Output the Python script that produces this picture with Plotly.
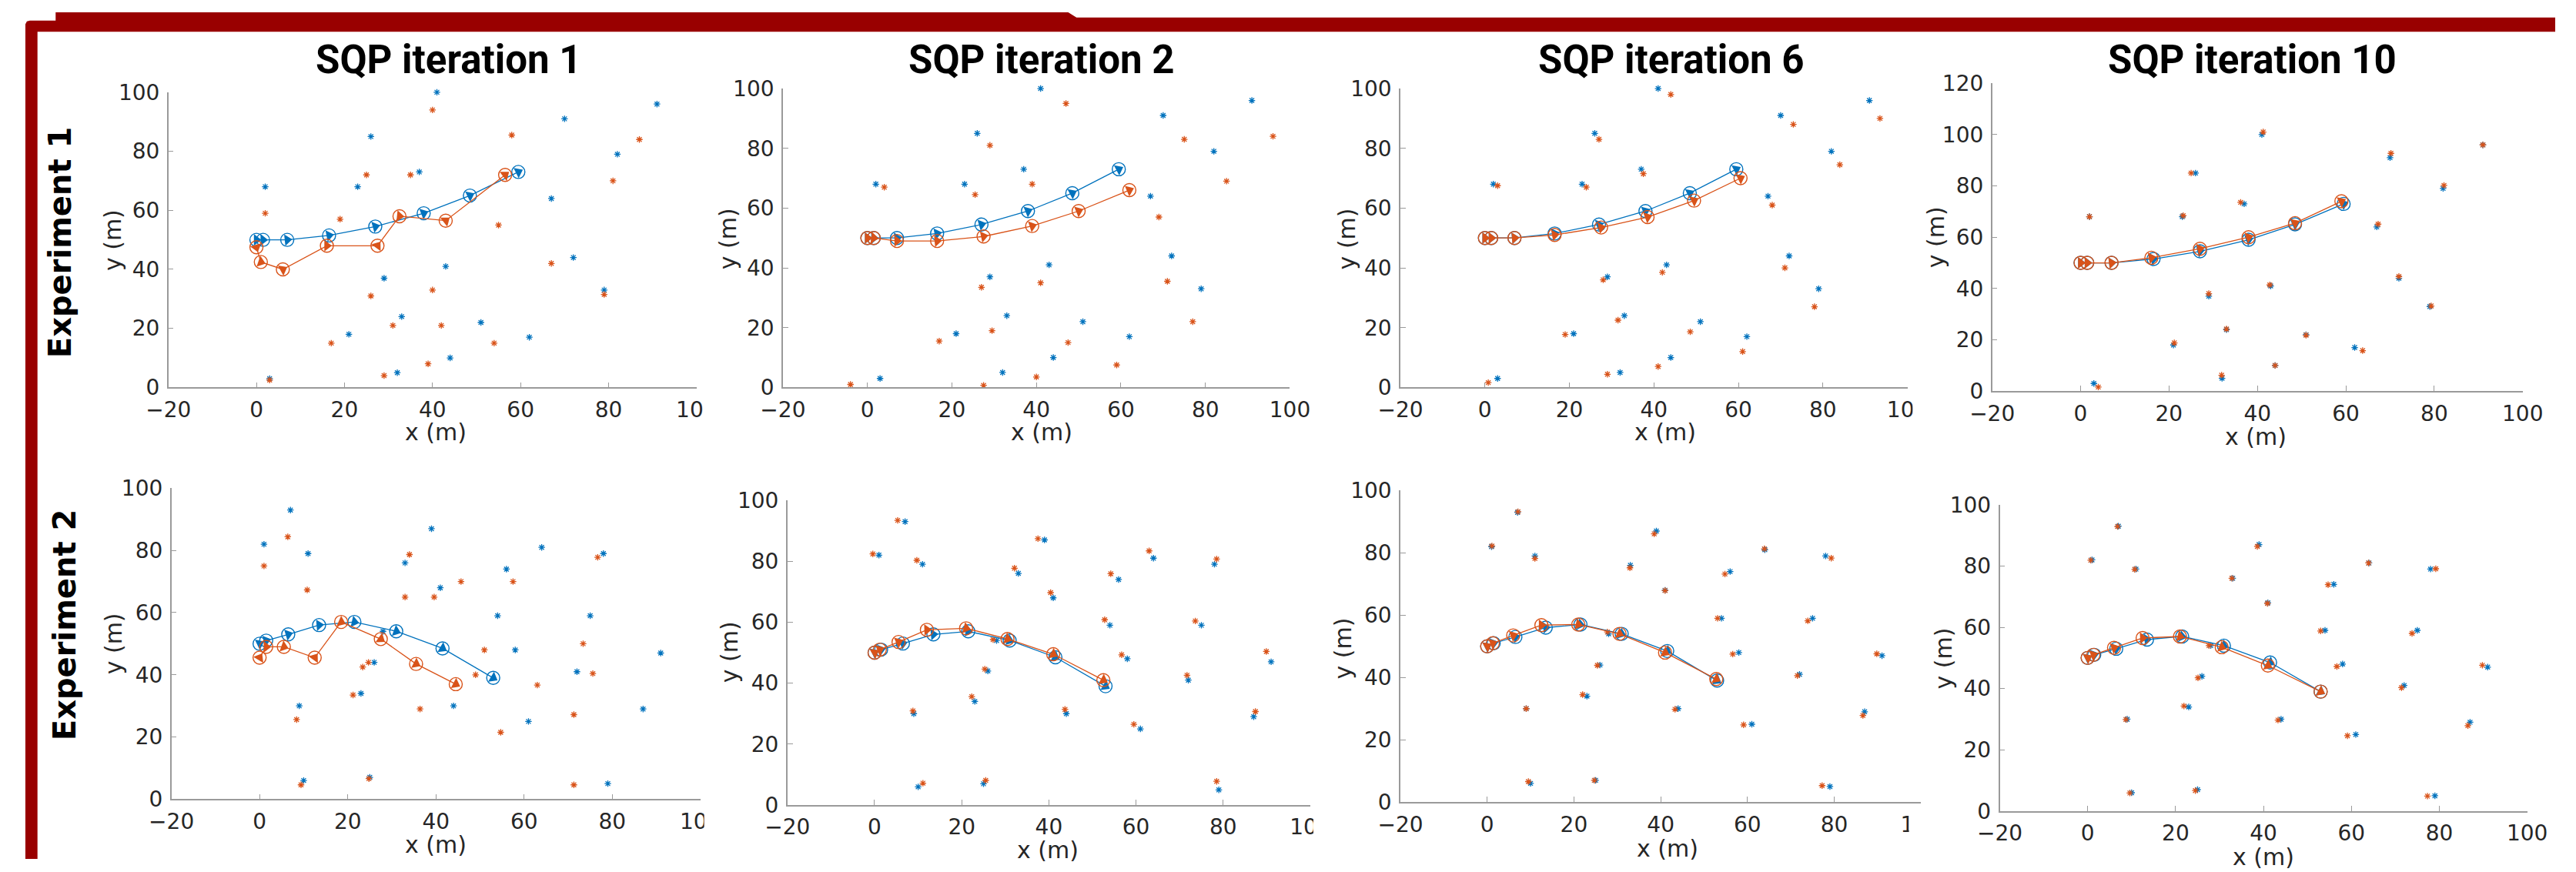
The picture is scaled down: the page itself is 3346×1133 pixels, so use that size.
import numpy as np
import plotly.graph_objects as go

W, H = 3346, 1133

# ---------------- data ----------------
TITLES = ["SQP iteration 1", "SQP iteration 2", "SQP iteration 6", "SQP iteration 10"]
ROW_LABELS = ["Experiment 1", "Experiment 2"]
X_TICKS = [-20, 0, 20, 40, 60, 80, 100]

# Experiment 1 - true landmarks
E1_LM_X = [41, 91, 70, 26, 82, 37, 2, 23, 67, 72, 43, 29, 79, 33, 51, 21, 62, 44, 32, 3]
E1_LM_Y = [100, 96, 91, 85, 79, 73, 68, 68, 64, 44, 41, 37, 33, 24, 22, 18, 17, 10, 5, 3]
# Experiment 1 - estimated landmarks per iteration
E1_IT1_LM_X = [40, 58, 87, 25, 35, 81, 2, 19, 55, 67, 40, 26, 79, 31, 42, 17, 54, 39, 29, 3]
E1_IT1_LM_Y = [94, 85.5, 84, 72, 72, 70, 59, 57, 55, 42, 33, 31, 31.5, 21, 21, 15, 15, 8, 4, 2.5]
E1_IT2_LM_X = [47, 75, 96, 29, 39, 4, 25.5, 85, 69, 71, 41, 27, 77, 29.5, 17, 47.5, 59, 40, -4, 27.5]
E1_IT2_LM_Y = [95, 83, 84, 81, 68, 67, 64.5, 69, 57, 35.5, 35, 33.5, 22, 19, 15.5, 15, 7.5, 3.5, 1, 0.7]
E1_IT6_LM_X = [44, 93.5, 73, 27, 84, 37.5, 3, 24, 68, 71, 42, 28, 78, 31.5, 19, 48.6, 61, 41, 29, 0.8]
E1_IT6_LM_Y = [98, 90, 88, 83, 74.5, 71.5, 67.5, 67, 61, 40, 38.5, 36, 27, 22.5, 17.7, 18.6, 12, 7, 4.4, 1.6]
E1_IT10_LM_X = [41.3, 91, 70.2, 25, 82.2, 36.2, 2, 23.2, 67.3, 72, 42.8, 29, 79.3, 33, 51, 21.2, 63.8, 44, 31.9, 4]
E1_IT10_LM_Y = [101, 96, 92.7, 85, 80.2, 73.6, 68, 68.4, 65.1, 44.7, 41.4, 38, 33.2, 24.2, 21.8, 18.8, 15.8, 10, 6.2, 1.6]
# Experiment 1 - true trajectory and estimates
E1_TR_X = [0, 1.5, 7, 16.5, 27, 38, 48.5, 59.5]
E1_TR_Y = [50, 50, 50, 51.5, 54.5, 59, 65, 73]
E1_IT1_TR_X = [0, 1, 6, 16, 27.5, 32.5, 43, 56.5]
E1_IT1_TR_Y = [47.5, 42.5, 40, 48, 48, 58, 56.5, 72]
E1_IT2_TR_X = [0, 1.5, 7, 16.5, 27.5, 39, 50, 62]
E1_IT2_TR_Y = [50, 50, 49, 49, 50.5, 54, 59, 66]
E1_IT6_TR_X = [0, 1.5, 7, 16.5, 27.5, 38.5, 49.5, 60.5]
E1_IT6_TR_Y = [50, 50, 50, 51, 53.5, 57, 62.5, 70]
E1_IT10_TR_X = [0, 1.5, 7, 16, 27, 38, 48.5, 59]
E1_IT10_TR_Y = [50, 50, 50, 52, 55.5, 60, 65.5, 74]

# Experiment 2 - true landmarks
E2_LM_X = [7, 39, 1, 64, 78, 11, 33, 56, 41, 54, 75, 58, 91, 28, 26, 72, 23, 9, 44, 87, 61, 10, 25, 79]
E2_LM_Y = [93, 87, 82, 81, 79, 79, 76, 74, 68, 59, 59, 48, 47, 54, 44, 41, 34, 30, 30, 29, 25, 6, 7, 5]
E2_IT1_LM_X = [6.4, 34, 1, 76.7, 57.5, 45.7, 10.8, 33, 39.6, 73.4, 51, 49, 75.6, 24.7, 23.4, 63, 21.2, 8.4, 36.4, 71.3, 54.7, 9.4, 24.8, 71.3]
E2_IT1_LM_Y = [84.4, 78.7, 75, 77.8, 70, 70, 67.3, 65, 65, 50, 48, 40, 40.4, 44, 42.5, 36.7, 33.5, 25.6, 29, 27.2, 21.5, 4.6, 6.6, 4.6]
E2_IT2_LM_X = [5.3, 37.5, -0.4, 63, 78.5, 9.7, 32.1, 54.2, 40.4, 52.8, 73.6, 56.7, 89.9, 27.2, 25.3, 71.7, 22.3, 8.8, 43.7, 87.4, 59.5, 11.1, 25.5, 78.5]
E2_IT2_LM_Y = [93.4, 87.4, 82.4, 83.4, 80.7, 80.3, 77.7, 75.9, 69.7, 60.8, 60.4, 49.3, 50.4, 54.3, 44.6, 42.6, 35.6, 30.9, 31.4, 30.7, 26.5, 7.2, 8.1, 7.8]
E2_IT6_LM_X = [7.1, 38.5, 1.1, 63.9, 79.3, 11, 32.9, 54.8, 41, 53.1, 73.9, 56.6, 89.8, 27.7, 25.4, 71.5, 22, 9, 43.3, 86.6, 59.1, 9.5, 24.7, 77.2]
E2_IT6_LM_Y = [93.2, 86.1, 82.2, 81.3, 78.3, 78.2, 75.2, 73.2, 67.9, 59, 58.2, 47.5, 47.6, 54.6, 43.9, 40.6, 34.5, 30, 29.8, 27.8, 24.8, 6.6, 7, 5.3]
E2_IT10_LM_X = [6.8, 38.6, 0.7, 63.9, 79.2, 10.7, 32.8, 54.7, 40.9, 53, 73.8, 56.7, 89.8, 27.6, 25.1, 71.4, 21.9, 8.7, 43.3, 86.5, 59.1, 9.6, 24.5, 77.3]
E2_IT10_LM_Y = [92.9, 86.4, 81.9, 81, 79.1, 78.9, 76, 73.9, 67.8, 58.8, 58, 47.2, 47.6, 54, 43.5, 40.3, 34.3, 29.9, 29.7, 27.9, 24.6, 5.9, 6.7, 4.9]
E2_TR_X = [0, 1.5, 6.5, 13.5, 21.5, 31, 41.5, 53]
E2_TR_Y = [50, 51, 53, 56, 57, 54, 48.5, 39]
E2_IT1_TR_X = [0, 1.5, 5.5, 12.5, 18.5, 27.5, 35.5, 44.5]
E2_IT1_TR_Y = [45.5, 49, 49, 45.5, 57, 51.5, 43.5, 37]
E2_IT2_TR_X = [0, 1.2, 5.5, 12, 21, 30.5, 41, 52.5]
E2_IT2_TR_Y = [50, 51, 53.5, 57.5, 58, 54.5, 49.5, 41]
E2_IT6_TR_X = [0, 1.3, 6, 12.5, 21, 30.5, 41, 52.8]
E2_IT6_TR_Y = [50, 51, 53.5, 56.8, 57, 54, 48, 39.5]
E2_IT10_TR_X = [0, 1.3, 6, 12.5, 21, 30.5, 41, 53]
E2_IT10_TR_Y = [50, 51, 53.3, 56.5, 57, 53.5, 47.5, 39]

# ---------------- styling / layout ----------------
BLUE = "#0072BD"
ORANGE = "#D95319"
RED = "#990000"
AXC = "#9a9a9a"
TXT = "#262626"
TICK_FONT = "DejaVu Sans, sans-serif"
TITLE_FONT = "Roboto, Liberation Sans Narrow, sans-serif"


def PX(x):
    return x / W


def PY(y):
    return 1 - y / H


# pixel boxes of each panel (left, right, top, bottom) and its y-limit
panels = [
    (192, 890, 107, 502, 100, (E1_LM_X, E1_LM_Y), (E1_IT1_LM_X, E1_IT1_LM_Y), (E1_TR_X, E1_TR_Y), (E1_IT1_TR_X, E1_IT1_TR_Y)),
    (1004, 1674, 102, 502, 100, (E1_LM_X, E1_LM_Y), (E1_IT2_LM_X, E1_IT2_LM_Y), (E1_TR_X, E1_TR_Y), (E1_IT2_TR_X, E1_IT2_TR_Y)),
    (1820, 2490, 102, 502, 100, (E1_LM_X, E1_LM_Y), (E1_IT6_LM_X, E1_IT6_LM_Y), (E1_TR_X, E1_TR_Y), (E1_IT6_TR_X, E1_IT6_TR_Y)),
    (2602, 3303, 95, 507, 120, (E1_LM_X, E1_LM_Y), (E1_IT10_LM_X, E1_IT10_LM_Y), (E1_TR_X, E1_TR_Y), (E1_IT10_TR_X, E1_IT10_TR_Y)),
    (196, 895, 637, 1053, 100, (E2_LM_X, E2_LM_Y), (E2_IT1_LM_X, E2_IT1_LM_Y), (E2_TR_X, E2_TR_Y), (E2_IT1_TR_X, E2_IT1_TR_Y)),
    (1010, 1701, 653, 1061, 100, (E2_LM_X, E2_LM_Y), (E2_IT2_LM_X, E2_IT2_LM_Y), (E2_TR_X, E2_TR_Y), (E2_IT2_TR_X, E2_IT2_TR_Y)),
    (1820, 2508, 640, 1057, 100, (E2_LM_X, E2_LM_Y), (E2_IT6_LM_X, E2_IT6_LM_Y), (E2_TR_X, E2_TR_Y), (E2_IT6_TR_X, E2_IT6_TR_Y)),
    (2612, 3309, 659, 1069, 100, (E2_LM_X, E2_LM_Y), (E2_IT10_LM_X, E2_IT10_LM_Y), (E2_TR_X, E2_TR_Y), (E2_IT10_TR_X, E2_IT10_TR_Y)),
]

fig = go.Figure()
layout = dict(
    width=W, height=H, margin=dict(l=0, r=0, t=0, b=0),
    paper_bgcolor="white", plot_bgcolor="rgba(0,0,0,0)",
    showlegend=False, shapes=[], annotations=[],
)


def headings(xs, ys, sx, sy):
    xs = np.asarray(xs, float)
    ys = np.asarray(ys, float)
    dx = np.diff(xs) * sx
    dy = np.diff(ys) * sy
    ang = np.degrees(np.arctan2(dy, dx))
    ang = np.append(ang, ang[-1])
    return list(-ang)


for k, (l, r, t, b, ymax, lmt, lme, trt, tre) in enumerate(panels):
    i = k + 1
    xa = "x" if i == 1 else f"x{i}"
    ya = "y" if i == 1 else f"y{i}"
    sx = (r - l) / 120.0
    sy = (b - t) / float(ymax)
    common = dict(
        showgrid=False, zeroline=False, showline=True, linecolor=AXC, linewidth=1.5,
        ticks="inside", ticklen=7, tickcolor=AXC, tickwidth=1.2,
        tickfont=dict(family=TICK_FONT, size=28, color=TXT), fixedrange=True,
    )
    layout["xaxis" if i == 1 else f"xaxis{i}"] = dict(
        domain=[PX(l), PX(r)], anchor=ya, range=[-20, 100], tickvals=X_TICKS,
        ticklabelstandoff=3, **common)
    layout["yaxis" if i == 1 else f"yaxis{i}"] = dict(
        domain=[PY(b), PY(t)], anchor=xa, range=[0, ymax],
        tickvals=list(range(0, ymax + 1, 20)), ticklabelstandoff=4, **common)
    # landmarks
    for (lx, ly), col in ((lmt, BLUE), (lme, ORANGE)):
        fig.add_trace(go.Scatter(
            x=lx, y=ly, mode="markers", xaxis=xa, yaxis=ya, cliponaxis=False,
            marker=dict(symbol="asterisk-open", size=7, color=col, line=dict(color=col, width=1.3)),
            hoverinfo="skip"))
    # trajectories
    for (tx, ty), col in ((trt, BLUE), (tre, ORANGE)):
        fig.add_trace(go.Scatter(
            x=tx, y=ty, mode="lines", xaxis=xa, yaxis=ya,
            line=dict(color=col, width=1.3), hoverinfo="skip"))
        fig.add_trace(go.Scatter(
            x=tx, y=ty, mode="markers", xaxis=xa, yaxis=ya, cliponaxis=False,
            marker=dict(symbol="circle-open", size=17, color=col, line=dict(color=col, width=1.4)),
            hoverinfo="skip"))
        fig.add_trace(go.Scatter(
            x=tx, y=ty, mode="markers", xaxis=xa, yaxis=ya, cliponaxis=False,
            marker=dict(symbol="triangle-right", size=13, color=col,
                        angle=headings(tx, ty, sx, sy), line=dict(width=0)),
            hoverinfo="skip"))


# ---------------- texts ----------------
def ann(text, x, y, size, family, angle=0, bold=False, color=TXT):
    layout["annotations"].append(dict(
        text=f"<b>{text}</b>" if bold else text, x=PX(x), y=PY(y), xref="paper", yref="paper",
        xanchor="center", yanchor="middle", showarrow=False, textangle=angle,
        font=dict(family=family, size=size, color=color)))


for txt, cx in zip(TITLES, [563, 1346, 2178, 2946]):
    ann(txt, cx, 63, 51, TITLE_FONT, bold=True, color="black")

ann(ROW_LABELS[0], 49, 308, 40, "DejaVu Sans, sans-serif", angle=-90, bold=True, color="black")
ann(ROW_LABELS[1], 55, 820, 40, "DejaVu Sans, sans-serif", angle=-90, bold=True, color="black")

for (x, y) in [(545, 562), (1346, 562), (2170, 562), (2950, 568),
               (545, 1114), (1354, 1121), (2173, 1119), (2960, 1130)]:
    ann("x (m)", x, y, 30, TICK_FONT)
for (x, y) in [(118, 305), (931, 303), (1749, 303), (2527, 301),
               (119, 845), (933, 856), (1744, 851), (2538, 865)]:
    ann("y (m)", x, y, 30, TICK_FONT, angle=-90)


# ---------------- frame and masks ----------------
def path(points):
    return "M " + " L ".join(f"{PX(x):.5f},{PY(y):.5f}" for x, y in points) + " Z"


layout["shapes"].append(dict(
    type="path", xref="paper", yref="paper", layer="above", line=dict(width=0), fillcolor=RED,
    path=path([(43, 0), (1381, 0), (1392, 7), (W, 7), (W, 26), (19, 26), (19, H), (3, H),
               (3, 16), (5, 12), (9, 11), (43, 11)])))

# white masks where neighbouring images overlapped the tick labels
for (x0, x1, y0, y1) in [(900, 962, 508, 548), (2497, 2562, 508, 548),
                         (900, 975, 1062, 1099), (1705, 1790, 1068, 1104),
                         (2492, 2575, 1065, 1100)]:
    layout["shapes"].append(dict(
        type="rect", xref="paper", yref="paper", layer="above", line=dict(width=0),
        fillcolor="white", x0=PX(x0), x1=PX(x1), y0=PY(y1), y1=PY(y0)))

fig.update_layout(**layout)
fig.write_html("out.html", config={"displayModeBar": False},
               post_script="document.body.style.margin='0px';document.body.style.overflow='hidden';")
